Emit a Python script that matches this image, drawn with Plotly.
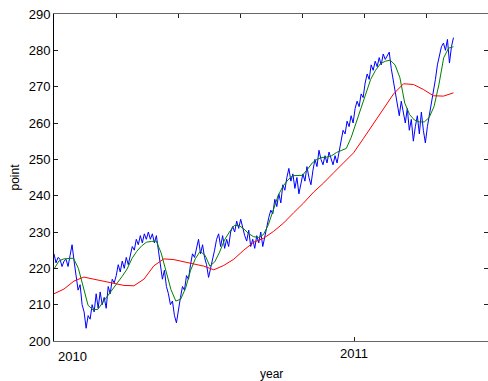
import pandas as pd
import plotly.graph_objects as go

# Daily index level (sampled), Jan 2010 - early May 2011
index_level = [
    224.0, 221.5, 223.0, 222.5, 220.5, 222.0, 222.5, 220.5, 223.5, 226.5,
    222.0, 218.0, 214.0, 215.5, 210.0, 208.0, 203.5, 207.0, 206.0, 210.0,
    208.0, 213.0, 209.0, 213.5, 210.0, 212.0, 209.0, 215.0, 213.0, 217.0,
    216.0, 218.0, 221.0, 219.0, 222.0, 220.0, 223.0, 221.0, 224.0, 226.0,
    225.0, 228.0, 226.5, 229.0, 227.0, 229.5, 228.0, 230.0, 228.0, 229.5,
    227.0, 229.0, 225.0, 221.0, 217.0, 219.5, 215.0, 213.0, 210.0, 211.0,
    207.0, 205.0, 209.0, 212.0, 215.0, 214.0, 218.0, 217.0, 221.0, 224.0,
    223.0, 226.0, 228.0, 224.0, 226.5, 223.0, 221.0, 217.5, 220.0, 222.0,
    225.0, 228.0, 229.5, 226.0, 229.0, 225.5, 228.0, 226.0, 230.0, 231.5,
    230.0, 233.0, 231.0, 233.5, 231.0, 229.0, 227.5, 230.5, 226.0, 228.0,
    225.5, 229.0, 227.0, 230.0, 226.0, 229.0, 232.0, 234.0, 236.0, 235.0,
    239.0, 237.0, 240.5, 238.0, 243.0, 241.5, 245.0, 247.5, 244.0, 246.0,
    242.0, 245.0, 240.5, 243.0, 246.0, 244.0, 248.0, 245.0, 243.0, 247.0,
    250.0, 248.0, 252.5, 250.0, 248.5, 251.0, 249.0, 252.0, 250.0, 248.5,
    251.0, 249.0, 252.0, 255.0, 258.0, 257.0, 260.5, 259.0, 262.0, 260.0,
    264.0, 266.0, 264.5, 268.0, 267.0, 271.0, 273.5, 272.0, 276.0, 274.5,
    277.0, 275.5, 278.0, 276.0, 279.0, 277.5, 278.5, 279.5, 275.0, 272.0,
    268.0, 265.0, 262.0, 266.0, 263.0, 260.0, 264.0, 258.0, 261.0, 255.0,
    259.0, 262.0, 257.0, 263.0, 258.0, 254.5, 259.0, 262.0, 265.0, 269.0,
    272.0, 276.0, 279.0, 281.0, 282.0, 280.0, 283.0, 276.5, 281.0, 283.5,
]

# Short moving average
ma_short = [
    219.8, 222.0, 222.6, 222.8, 222.8, 220.0, 214.5, 209.8, 208.6, 208.7,
    210.6, 212.3, 214.2, 216.0, 217.8, 219.8, 222.7, 224.7, 226.2, 227.2,
    227.4, 227.5, 224.2, 218.8, 214.2, 211.0, 211.5, 214.5, 219.3, 222.6,
    224.7, 223.6, 220.6, 221.8, 224.5, 227.8, 230.0, 231.8, 231.8, 230.8,
    229.5, 228.7, 228.5, 229.3, 232.0, 236.0, 240.0, 242.6, 244.3, 245.5,
    245.5, 245.6, 247.2, 249.0, 250.0, 250.5, 250.6, 251.0, 251.9, 252.5,
    253.0, 256.0, 260.0, 264.0, 268.5, 272.0, 274.5, 276.3, 277.0, 277.3,
    276.0, 272.5, 265.5, 262.3, 260.8, 260.3, 260.3, 261.5, 264.5, 270.5,
    278.0, 280.6, 281.0,
]

# Long moving average
ma_long = [
    213.0, 214.3, 216.5, 217.6, 217.0, 216.5, 215.8, 215.3, 215.2, 217.0,
    220.7, 222.6, 222.4, 221.8, 221.2, 220.6, 219.6, 220.8, 222.5, 225.0,
    227.2, 228.3, 230.2, 232.5, 235.3, 238.0, 241.0, 243.5, 246.3, 249.0,
    251.8, 255.8, 259.8, 264.0, 268.0, 270.8, 270.6, 269.2, 267.5, 267.4,
    268.3,
]

start, end = "2010-01-01", "2011-05-02"
dates_level = pd.date_range(start, end, periods=len(index_level))
dates_short = pd.date_range(start, end, periods=len(ma_short))
dates_long = pd.date_range(start, end, periods=len(ma_long))

y_ticks = list(range(200, 291, 10))
font = "Liberation Sans, Arial, sans-serif"

fig = go.Figure()
fig.add_trace(go.Scatter(x=dates_level, y=index_level, mode="lines",
                         line=dict(color="#0000ff", width=1)))
fig.add_trace(go.Scatter(x=dates_short, y=ma_short, mode="lines",
                         line=dict(color="#008000", width=1)))
fig.add_trace(go.Scatter(x=dates_long, y=ma_long, mode="lines",
                         line=dict(color="#ff0000", width=1)))
# empty trace so the top tick axis gets drawn
fig.add_trace(go.Scatter(x=[], y=[], xaxis="x2", showlegend=False))

fig.update_layout(
    width=488, height=381,
    margin=dict(l=54, r=0, t=14, b=40),
    paper_bgcolor="white", plot_bgcolor="white",
    showlegend=False,
    font=dict(family=font, size=13, color="black"),
    xaxis=dict(
        type="date", range=["2010-01-01", "2011-06-13"],
        tickvals=["2011-01-01"], ticktext=["2011"],
        ticks="inside", ticklen=4, tickcolor="#222",
        showline=True, linecolor="#666", linewidth=1, mirror=True,
        showgrid=False, zeroline=False,
        tickfont=dict(size=13),
    ),
    xaxis2=dict(
        overlaying="x", side="top", anchor="y", range=[0, 7],
        tickvals=[1, 2, 3, 4, 5, 6], showticklabels=False,
        ticks="inside", ticklen=4, tickcolor="#222",
        showline=False, showgrid=False, zeroline=False,
    ),
    yaxis=dict(
        range=[200, 290], tickvals=y_ticks,
        ticks="inside", ticklen=4, tickcolor="#222",
        showline=True, linecolor="black", linewidth=1, mirror="ticks",
        showgrid=False, zeroline=False,
        tickfont=dict(size=13),
    ),
    annotations=[
        dict(text="2010", x="2010-01-01", y=0, xref="x", yref="paper",
             xanchor="left", yanchor="middle", xshift=2, yshift=-15,
             showarrow=False, font=dict(size=13)),
        dict(text="year", x=0.5, y=0, xref="paper", yref="paper",
             xanchor="center", yanchor="middle", yshift=-33,
             showarrow=False, font=dict(size=12)),
        dict(text="point", x=0, y=0.5, xref="paper", yref="paper",
             xanchor="center", yanchor="middle", xshift=-40, textangle=-90,
             showarrow=False, font=dict(size=12)),
    ],
)

fig.write_html("out.html")
